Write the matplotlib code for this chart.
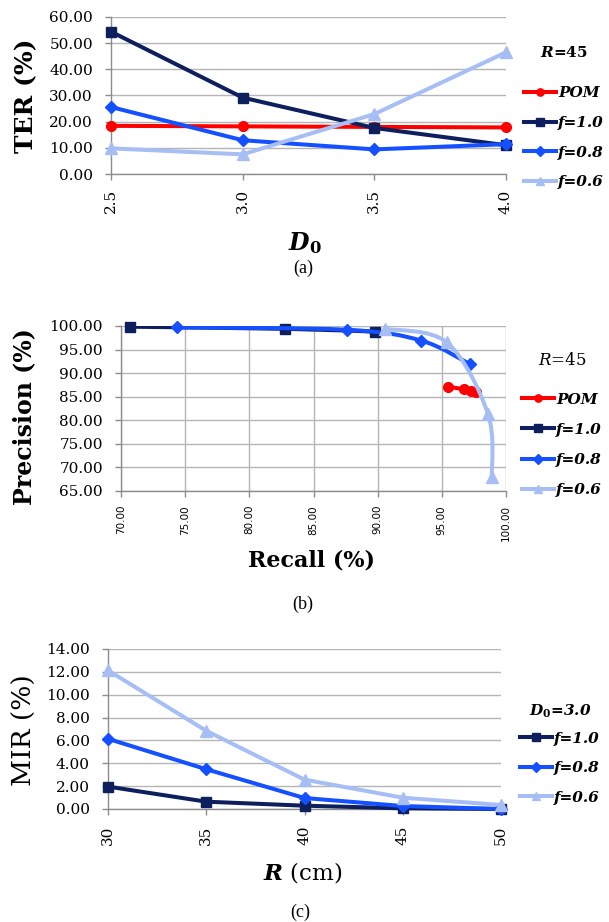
import numpy as np
import matplotlib
matplotlib.use("Agg")
import matplotlib.pyplot as plt
from matplotlib.path import Path
from matplotlib.patches import PathPatch
from matplotlib.lines import Line2D

plt.rcParams['font.family'] = ['DejaVu Serif']
plt.rcParams['mathtext.fontset'] = 'custom'
plt.rcParams['mathtext.rm'] = 'DejaVu Serif'
plt.rcParams['mathtext.it'] = 'DejaVu Serif:italic'
plt.rcParams['mathtext.bf'] = 'DejaVu Serif:bold'
plt.rcParams['mathtext.bfit'] = 'DejaVu Serif:italic:bold'

# ---------------- data ----------------
# (a) TER vs D0, R=45
d0 = [2.5, 3.0, 3.5, 4.0]
d0_labels = ["2.5", "3.0", "3.5", "4.0"]
ter_pom = [18.4, 18.2, 18.0, 17.8]
ter_f10 = [54.4, 29.2, 17.6, 11.0]
ter_f08 = [25.6, 12.9, 9.4, 11.4]
ter_f06 = [9.8, 7.5, 22.9, 46.5]
ter_yticks = [0, 10, 20, 30, 40, 50, 60]

# (b) Precision vs Recall, R=45
pom_recall = [95.5, 96.7, 97.3, 97.7]
pom_prec = [87.1, 86.6, 86.3, 85.9]
f10_recall = [70.7, 82.8, 89.8]
f10_prec = [99.85, 99.4, 98.8]
f08_recall = [74.4, 87.6, 93.4, 97.2]
f08_prec = [99.7, 99.2, 96.9, 91.9]
f06_recall = [90.6, 95.4, 98.6, 98.9]
f06_prec = [99.4, 96.5, 81.3, 68.0]
recall_ticks = [70, 75, 80, 85, 90, 95, 100]
prec_ticks = [65, 70, 75, 80, 85, 90, 95, 100]

# (c) MIR vs R, D0=3.0
r_vals = [30, 35, 40, 45, 50]
mir_f10 = [1.96, 0.64, 0.29, 0.06, 0.0]
mir_f08 = [6.14, 3.48, 0.96, 0.26, 0.0]
mir_f06 = [12.13, 6.84, 2.57, 0.99, 0.35]
mir_yticks = [0, 2, 4, 6, 8, 10, 12, 14]

# ---------------- style ----------------
C_POM = '#FF0000'
C_F10 = '#0E1F5E'
C_F08 = '#1450FF'
C_F06 = '#A7BEF5'
GRID = '#B5B5B5'
SPINE = '#8C8C8C'
LW = 2.9

W, H = 609, 922
fig = plt.figure(figsize=(W / 100, H / 100), dpi=100)


def ax_rect(l, r, t, b):
    return [l / W, 1 - b / H, (r - l) / W, (b - t) / H]


def style_axes(ax, xgrid=False):
    for s in ['top', 'right']:
        ax.spines[s].set_visible(False)
    for s in ['left', 'bottom']:
        ax.spines[s].set_color(SPINE)
        ax.spines[s].set_linewidth(1.0)
    ax.grid(axis='y', color=GRID, lw=1.0)
    if xgrid:
        ax.grid(axis='x', color=GRID, lw=1.0)
    ax.set_axisbelow(True)
    ax.tick_params(axis='both', color=SPINE, length=4, width=1.0, direction='out')


def smooth(ax, xs, ys, color, lw, z):
    pts = np.column_stack([xs, ys]).astype(float)
    n = len(pts)
    verts = [pts[0]]
    codes = [Path.MOVETO]
    for i in range(n - 1):
        p0 = pts[i - 1] if i > 0 else pts[i]
        p1 = pts[i]
        p2 = pts[i + 1]
        p3 = pts[i + 2] if i + 2 < n else pts[i + 1]
        verts += [p1 + (p2 - p0) / 6.0, p2 - (p3 - p1) / 6.0, p2]
        codes += [Path.CURVE4] * 3
    patch = PathPatch(Path(verts, codes), facecolor='none', edgecolor=color,
                      lw=lw, zorder=z, capstyle='round', joinstyle='round')
    ax.add_patch(patch)


leg_prop = dict(family='DejaVu Serif', weight='bold', style='italic', size=11)

# ================= (a) =================
axA = fig.add_axes(ax_rect(111, 506, 17, 174))
style_axes(axA)
seriesA = [(ter_pom, C_POM, 'o', 7, 'POM'),
           (ter_f10, C_F10, 's', 7.5, 'f=1.0'),
           (ter_f08, C_F08, 'D', 6.5, 'f=0.8'),
           (ter_f06, C_F06, '^', 8.5, 'f=0.6')]
handlesA = []
for i, (vals, c, m, ms, lab) in enumerate(seriesA):
    axA.plot(d0, vals, color=c, lw=LW, marker=m, ms=ms, mec=c, mfc=c,
             clip_on=False, zorder=3 + i, solid_joinstyle='round')
    handlesA.append(Line2D([], [], color=c, lw=LW, marker=m, ms=ms * 0.75,
                           mec=c, mfc=c, label=lab))
axA.set_xlim(2.5, 4.0)
axA.set_ylim(0, 60)
axA.set_xticks(d0)
axA.set_xticklabels(d0_labels, rotation=90, fontsize=11)
axA.set_yticks(ter_yticks)
axA.set_yticklabels([f"{v:.2f}" for v in ter_yticks], fontsize=11)
axA.tick_params(axis='y', pad=9)
axA.tick_params(axis='x', pad=7)
legA = axA.legend(handles=handlesA, loc='upper left',
                  bbox_to_anchor=(524 / W, 1 - 45 / H), bbox_transform=fig.transFigure,
                  frameon=False, prop=leg_prop, handlelength=2.1, handletextpad=0.15,
                  labelspacing=1.02, borderaxespad=0, borderpad=0,
                  title=r'$\mathbfit{R}$=45', title_fontproperties=dict(family='DejaVu Serif', weight='bold', size=11))
legA._legend_box.sep = 19
fig.text(26 / W, 1 - 96 / H, 'TER (%)', rotation=90, ha='center', va='center',
         fontsize=18, fontweight='bold')
fig.text(305 / W, 1 - 243 / H, r'$\mathbfit{D}_{\mathbf{0}}$', ha='center', va='center',
         fontsize=17)
fig.text(303 / W, 1 - 268 / H, '(a)', ha='center', va='center', fontsize=13,
         family='Liberation Serif')

# ================= (b) =================
axB = fig.add_axes(ax_rect(121, 506, 326, 491))
style_axes(axB, xgrid=True)
seriesB = [(pom_recall, pom_prec, C_POM, 'o', 7, 'POM'),
           (f10_recall, f10_prec, C_F10, 's', 7.5, 'f=1.0'),
           (f08_recall, f08_prec, C_F08, 'D', 6.5, 'f=0.8'),
           (f06_recall, f06_prec, C_F06, '^', 8.5, 'f=0.6')]
handlesB = []
for i, (xs, ys, c, m, ms, lab) in enumerate(seriesB):
    smooth(axB, xs, ys, c, LW, 3 + 2 * i)
    axB.plot(xs, ys, ls='none', marker=m, ms=ms, mec=c, mfc=c, clip_on=False,
             zorder=4 + 2 * i)
    handlesB.append(Line2D([], [], color=c, lw=LW, marker=m, ms=ms * 0.75,
                           mec=c, mfc=c, label=lab))
axB.set_xlim(70, 100)
axB.set_ylim(65, 100)
axB.set_xticks(recall_ticks)
axB.set_xticklabels([f"{v:.2f}" for v in recall_ticks], rotation=90, fontsize=7.5,
                    family='DejaVu Sans')
axB.set_yticks(prec_ticks)
axB.set_yticklabels([f"{v:.2f}" for v in prec_ticks], fontsize=11)
axB.tick_params(axis='y', pad=9)
axB.tick_params(axis='x', pad=6)
legB = axB.legend(handles=handlesB, loc='upper left',
                  bbox_to_anchor=(522 / W, 1 - 352 / H), bbox_transform=fig.transFigure,
                  frameon=False, prop=leg_prop, handlelength=2.1, handletextpad=0.15,
                  labelspacing=1.06, borderaxespad=0, borderpad=0,
                  title=r'$\mathit{R}$=45', title_fontproperties=dict(family='DejaVu Serif', size=12))
legB._legend_box.sep = 17
fig.text(24 / W, 1 - 417 / H, 'Precision (%)', rotation=90, ha='center', va='center',
         fontsize=17, fontweight='bold')
fig.text(312 / W, 1 - 560 / H, 'Recall (%)', ha='center', va='center',
         fontsize=16, fontweight='bold')
fig.text(303 / W, 1 - 604 / H, '(b)', ha='center', va='center', fontsize=13,
         family='Liberation Serif')

# ================= (c) =================
axC = fig.add_axes(ax_rect(108, 501, 649, 809))
style_axes(axC)
seriesC = [(mir_f10, C_F10, 's', 7.5, 'f=1.0'),
           (mir_f08, C_F08, 'D', 6.5, 'f=0.8'),
           (mir_f06, C_F06, '^', 8.5, 'f=0.6')]
handlesC = []
for i, (vals, c, m, ms, lab) in enumerate(seriesC):
    axC.plot(r_vals, vals, color=c, lw=LW, marker=m, ms=ms, mec=c, mfc=c,
             clip_on=False, zorder=3 + i, solid_joinstyle='round')
    handlesC.append(Line2D([], [], color=c, lw=LW, marker=m, ms=ms * 0.75,
                           mec=c, mfc=c, label=lab))
axC.set_xlim(30, 50)
axC.set_ylim(0, 14)
axC.set_xticks(r_vals)
axC.set_xticklabels([str(v) for v in r_vals], rotation=90, fontsize=11)
axC.set_yticks(mir_yticks)
axC.set_yticklabels([f"{v:.2f}" for v in mir_yticks], fontsize=11)
axC.tick_params(axis='y', pad=9)
axC.tick_params(axis='x', pad=8)
legC = axC.legend(handles=handlesC, loc='upper left',
                  bbox_to_anchor=(520 / W, 1 - 703 / H), bbox_transform=fig.transFigure,
                  frameon=False, prop=leg_prop, handlelength=2.1, handletextpad=0.15,
                  labelspacing=1.02, borderaxespad=0, borderpad=0,
                  title=r'$\mathbfit{D}_{\mathbf{0}}$=3.0',
                  title_fontproperties=dict(family='DejaVu Serif', weight='bold',
                                            style='italic', size=11))
legC._legend_box.sep = 8
fig.text(24 / W, 1 - 730 / H, 'MIR (%)', rotation=90, ha='center', va='center',
         fontsize=19)
fig.text(303 / W, 1 - 872 / H, r'$\mathbfit{R}$ (cm)', ha='center', va='center',
         fontsize=16.5)
fig.text(300 / W, 1 - 912 / H, '(c)', ha='center', va='center', fontsize=13,
         family='Liberation Serif')

fig.savefig('out.png', dpi=100)
